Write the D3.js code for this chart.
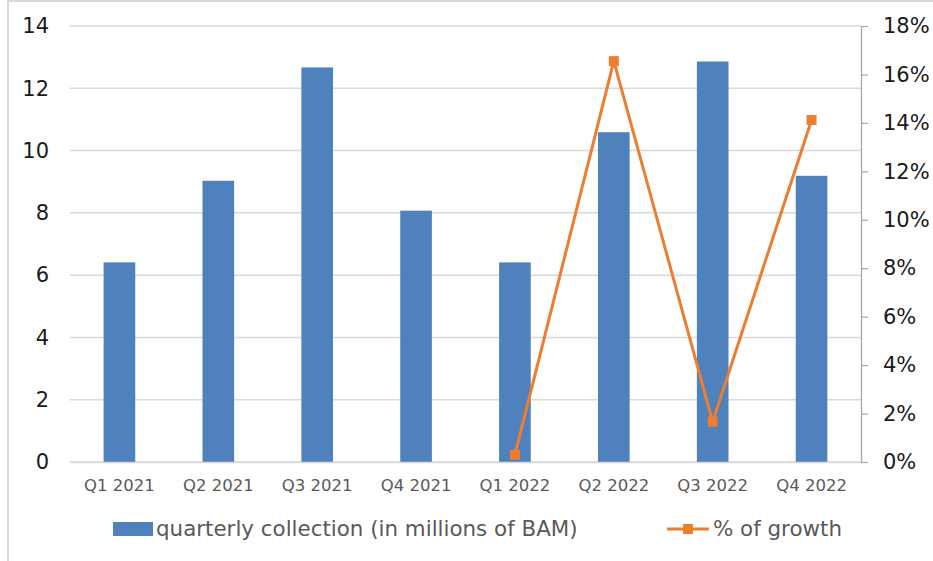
<!DOCTYPE html>
<html>
<head>
<meta charset="utf-8">
<script src="https://cdn.jsdelivr.net/npm/d3@7"></script>
<style>
  html, body { margin: 0; padding: 0; background: #fff; }
  svg { display: block; }
</style>
</head>
<body>
<svg id="chart" width="933" height="561"></svg>
<script>
// Quarterly collection (millions of BAM) and quarter-on-quarter growth
const quarters = ["Q1 2021", "Q2 2021", "Q3 2021", "Q4 2021", "Q1 2022", "Q2 2022", "Q3 2022", "Q4 2022"];
const collection = [6.41, 9.03, 12.67, 8.07, 6.41, 10.59, 12.86, 9.19];
const growthQuarters = ["Q1 2022", "Q2 2022", "Q3 2022", "Q4 2022"];
const growth = [0.003, 0.1655, 0.0166, 0.1412];
const leftTicks = [0, 2, 4, 6, 8, 10, 12, 14];
const rightTicks = [0, 0.02, 0.04, 0.06, 0.08, 0.10, 0.12, 0.14, 0.16, 0.18];

const barColor = "#4F81BD";
const lineColor = "#ED7D31";
const font = "'DejaVu Sans', Verdana, sans-serif";

const svg = d3.select("#chart");
const W = 933, H = 561;
const plot = { left: 70, right: 861, top: 26, bottom: 462 };

// chart frame
svg.append("rect")
  .attr("x", 8).attr("y", 1)
  .attr("width", W + 10).attr("height", H + 10)
  .attr("fill", "#fff").attr("stroke", "#d9d9d9").attr("stroke-width", 2);

const x = d3.scaleBand().domain(quarters).range([plot.left, plot.right]).paddingInner(0.68).paddingOuter(0.34);
const yL = d3.scaleLinear().domain([0, 14]).range([plot.bottom, plot.top]);
const yR = d3.scaleLinear().domain([0, 0.18]).range([plot.bottom, plot.top]);

// horizontal gridlines from the left axis
svg.append("g")
  .selectAll("line").data(leftTicks).join("line")
  .attr("x1", plot.left).attr("x2", plot.right)
  .attr("y1", d => yL(d)).attr("y2", d => yL(d))
  .attr("stroke", "#d9d9d9").attr("stroke-width", 1.5);

// left axis labels
const leftAxis = d3.axisLeft(yL).tickValues(leftTicks).tickSize(0).tickPadding(21).tickFormat(d3.format("d"));
const gL = svg.append("g").attr("transform", `translate(${plot.left},0)`).call(leftAxis);
gL.select(".domain").remove();
gL.selectAll("text").attr("font-family", font).attr("font-size", 21).attr("fill", "#1a1a1a");

// bars
svg.append("g")
  .selectAll("rect").data(quarters).join("rect")
  .attr("x", d => x(d))
  .attr("width", x.bandwidth())
  .attr("y", (d, i) => yL(collection[i]))
  .attr("height", (d, i) => yL(0) - yL(collection[i]))
  .attr("fill", barColor);

// category axis
const xAxis = d3.axisBottom(x).tickSize(0).tickPadding(17);
const gX = svg.append("g").attr("transform", `translate(0,${plot.bottom})`).call(xAxis);
gX.select(".domain").attr("stroke", "#d9d9d9").attr("stroke-width", 1.5);
gX.selectAll("text").attr("font-family", font).attr("font-size", 16.5).attr("fill", "#595959");

// right axis
const rightAxis = d3.axisRight(yR).tickValues(rightTicks).tickSize(7).tickPadding(15).tickFormat(d3.format(".0%"));
const gR = svg.append("g").attr("transform", `translate(${plot.right},0)`).call(rightAxis);
gR.select(".domain").attr("stroke", "#a6a6a6").attr("stroke-width", 1.2);
gR.selectAll(".tick line").attr("stroke", "#a6a6a6").attr("stroke-width", 1.2);
gR.selectAll("text").attr("font-family", font).attr("font-size", 21).attr("fill", "#1a1a1a");

// growth line with square markers
const cx = q => x(q) + x.bandwidth() / 2;
const line = d3.line().x((d, i) => cx(growthQuarters[i])).y(d => yR(d));
svg.append("path")
  .datum(growth)
  .attr("d", line)
  .attr("fill", "none")
  .attr("stroke", lineColor)
  .attr("stroke-width", 3)
  .attr("stroke-linejoin", "round");
svg.append("g")
  .selectAll("rect").data(growth).join("rect")
  .attr("x", (d, i) => cx(growthQuarters[i]) - 5)
  .attr("y", d => yR(d) - 5)
  .attr("width", 10).attr("height", 10)
  .attr("fill", lineColor);

// legend
const legY = 529;
const leg = svg.append("g");
leg.append("rect").attr("x", 113).attr("y", legY - 7).attr("width", 40).attr("height", 14).attr("fill", barColor);
leg.append("text").attr("x", 156).attr("y", legY).attr("dy", "0.35em")
  .attr("font-family", font).attr("font-size", 21.4).attr("fill", "#595959")
  .text("quarterly collection (in millions of BAM)");
leg.append("line").attr("x1", 667).attr("x2", 709).attr("y1", legY).attr("y2", legY)
  .attr("stroke", lineColor).attr("stroke-width", 3);
leg.append("rect").attr("x", 688 - 5).attr("y", legY - 5).attr("width", 10).attr("height", 10).attr("fill", lineColor);
leg.append("text").attr("x", 713).attr("y", legY).attr("dy", "0.35em")
  .attr("font-family", font).attr("font-size", 21.4).attr("fill", "#595959")
  .text("% of growth");
</script>
</body>
</html>
